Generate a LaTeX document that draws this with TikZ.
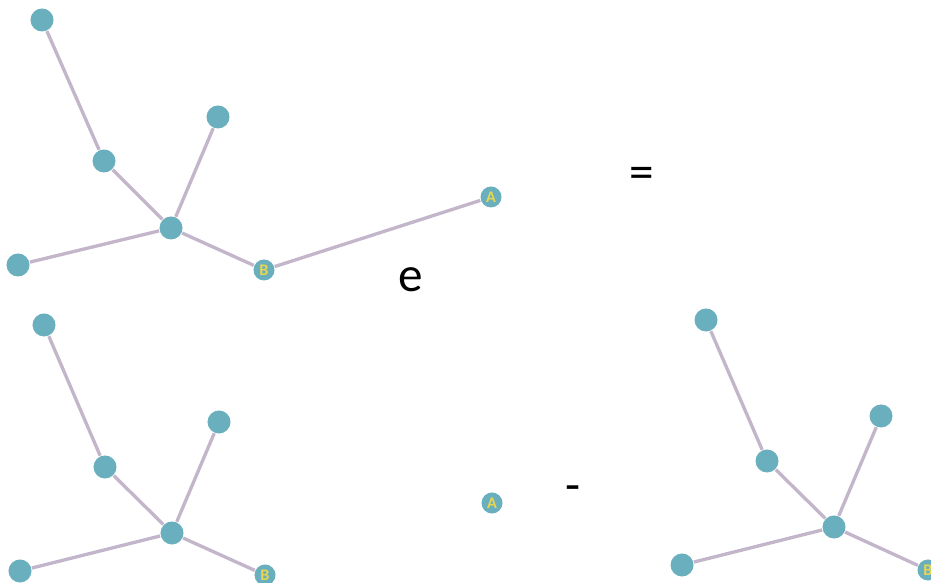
\documentclass[tikz,border=0pt]{standalone}
\usepackage{fontspec}
\setmainfont{Carlito}
\usepackage{tikz}
\definecolor{vtxfill}{HTML}{6AAFBD}
\definecolor{edgecol}{HTML}{C4B6CA}
\definecolor{lblcol}{HTML}{E9D64E}

\begin{document}
\begin{tikzpicture}[
  x=0.01cm, y=-0.01cm,
  vtx/.style={circle, fill=vtxfill, draw=none, minimum size=0.23cm, inner sep=0pt},
  lbl/.style={vtx, minimum size=0.21cm, text=lblcol,
              font=\fontsize{4.6}{5}\selectfont\bfseries},
  edg/.style={draw=edgecol, line width=0.95pt},
  sym/.style={font=\fontsize{14}{16}\selectfont, inner sep=0pt}
]
\clip (0,0) rectangle (931,583);

% top tree
\node[vtx] (t1) at (42, 20)  {};
\node[vtx] (t2) at (104,161) {};
\node[vtx] (t3) at (218,117) {};
\node[vtx] (t4) at (171,228) {};
\node[vtx] (t5) at (18, 265) {};
\node[lbl] (tB) at (264,270) {B};
\node[lbl] (tA) at (491,197) {A};

% bottom left tree
\node[vtx] (l1) at (44, 325) {};
\node[vtx] (l2) at (105,467) {};
\node[vtx] (l3) at (219,422) {};
\node[vtx] (l4) at (172,533) {};
\node[vtx] (l5) at (20, 571) {};
\node[lbl] (lB) at (265,575) {B};

% lone A
\node[lbl] (mA) at (492,503) {A};

% bottom right tree
\node[vtx] (r1) at (706,320) {};
\node[vtx] (r2) at (767,461) {};
\node[vtx] (r3) at (881,416) {};
\node[vtx] (r4) at (834,527) {};
\node[vtx] (r5) at (682,565) {};
\node[lbl] (rB) at (928,570) {B};

\foreach \a/\b in {t1/t2, t2/t4, t3/t4, t5/t4, t4/tB, tB/tA,
                   l1/l2, l2/l4, l3/l4, l5/l4, l4/lB,
                   r1/r2, r2/r4, r3/r4, r5/r4, r4/rB}
  \draw[edg] (\a) -- (\b);

% operators
\node[sym] (eq)  at (642,178) {=};
\node[sym] (e)   at (411,280) {e};
\node[sym] (mns) at (573,494) {-};
\end{tikzpicture}
\end{document}
